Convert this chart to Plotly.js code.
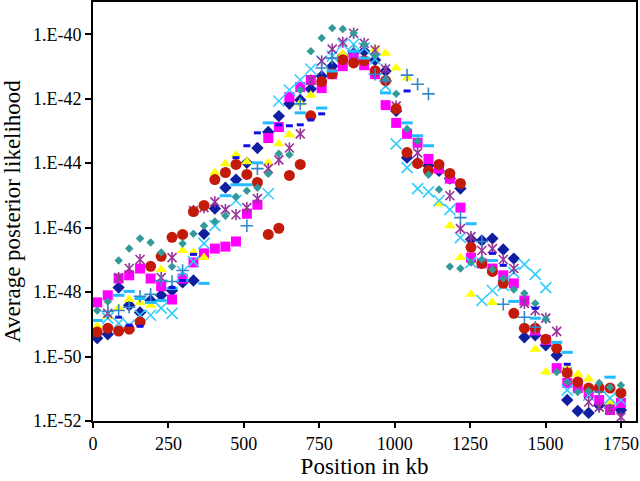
<!DOCTYPE html>
<html>
<head>
<meta charset="utf-8">
<script src="https://cdn.plot.ly/plotly-3.0.1.min.js"></script>
<style>html,body{margin:0;padding:0;background:#fff;}#chart{width:640px;height:481px;}</style>
</head>
<body>
<div id="chart"></div>
<script>
// Positions (kb) of the sampled windows
const positionKb = [14, 49, 85, 120, 156, 191, 226, 262, 297, 333, 368, 404, 439, 474, 510, 545, 581, 616, 651, 687,
  722, 758, 793, 828, 864, 899, 935, 970, 1005, 1041, 1076, 1112, 1147, 1183, 1218, 1253, 1289, 1324, 1360, 1395,
  1430, 1466, 1501, 1537, 1572, 1607, 1643, 1678, 1714, 1750];

// Average posterior likelihood, given as log10 exponents (null = not visible)
const navyDiamondLog = [-49.43, -49.31, -47.86, -48.41, -48.63, -48.26, -48.10, -47.95, -47.70, -47.64,
  -46.19, -45.41, -44.76, -44.51, -43.99, -43.53, -43.03, -42.54, -42.16, -42.04,
  -41.70, -41.30, -40.99, -40.68, -40.59, -40.53, -40.80, -41.14, -42.38, -43.83,
  -43.99, -44.08, -44.24, -44.48, -44.79, -46.37, -46.40, -46.34, -46.68, -46.96,
  -49.40, -49.34, -49.65, -49.96, -51.35, -51.69, -51.75, -51.51, -51.60, -51.66];
const magentaSquareLog = [-48.32, -48.10, -47.58, -47.48, -47.27, -47.58, -47.82, -48.23, -47.58, -47.08,
  -46.80, -46.65, -46.59, -46.43, -45.57, -45.29, -43.22, -42.88, -41.95, -41.64,
  -41.42, -41.67, -41.24, -40.99, -40.74, -40.96, -41.24, -42.20, -42.75, -43.09,
  -43.37, -43.87, -44.17, -44.48, -45.38, -46.93, -47.11, -47.27, -47.48, -47.73,
  -48.26, -49.19, -49.49, -50.36, -50.82, -50.98, -51.13, -51.35, -51.66, -51.44];
const yellowTriangleLog = [-49.06, -48.75, -48.50, -48.23, -48.32, -48.41, -47.30, null, -46.71, -46.77,
  -46.93, -44.30, -44.02, -43.74, -43.96, null, -43.99, -43.40, -43.12, -42.13,
  -41.89, null, null, -40.62, null, null, -40.46, -40.59, -41.05, -41.36,
  null, null, -45.26, -45.94, -46.93, -48.07, null, -48.32, null, null,
  null, -49.77, -50.48, null, -50.36, -50.55, -50.70, null, -51.41, null];
const cyanCrossLog = [null, -48.81, -48.97, -49.03, -48.72, -48.72, -48.50, -48.66, -47.36, -47.05,
  -46.49, -45.94, null, -45.16, null, null, -44.95, -42.07, -41.73, -41.42,
  -41.08, -40.83, -40.68, -40.31, -40.31, -40.43, -40.77, -41.61, -43.40, -44.14,
  -44.79, -44.89, -45.16, -45.44, -46.31, -47.08, -48.26, -47.95, -47.79, -47.39,
  -47.14, -47.45, -47.86, null, -51.04, null, -51.20, null, -51.29, -51.35];
const purpleStarLog = [null, -48.66, -47.55, -47.27, -46.99, null, -47.55, -46.93, null, -45.47,
  -45.38, -45.20, -45.44, -45.60, -45.38, -45.10, -44.17, -43.90, -43.53, -43.09,
  -41.42, -40.83, -40.46, -40.25, -39.97, -40.28, -40.49, -41.08, -42.23, null,
  -43.68, null, null, -45.01, -46.03, -46.28, -46.71, -46.65, -46.99, -47.27,
  -48.35, -48.57, -48.81, -49.22, -50.48, null, -51.41, -51.57, -51.63, -51.88];
const redCircleLog = [-49.24, -49.12, -49.21, -49.15, -48.93, -47.20, -46.89, -46.30, -46.21, -45.50,
  -45.31, -44.51, -44.29, -44.04, -44.35, -44.60, -46.21, -46.02, -44.38, -44.04,
  -42.53, -41.47, -41.23, -40.79, -40.89, -40.82, -41.13, -41.44, -42.31, -43.67,
  -44.01, -44.23, -44.04, -44.32, -44.63, -46.61, -47.11, -47.36, -47.73, -48.66,
  -49.12, -49.12, -49.46, -49.74, -50.51, -50.79, -50.98, -50.98, -50.98, -51.13];
const tealDotLog = [-48.57, -48.29, -47.02, -46.65, -46.34, -46.46, -46.77, -47.21, -46.49, -46.19,
  -45.94, -45.81, -45.63, -45.04, -44.86, -44.76, -44.33, -43.71, -43.74, -41.73,
  -40.53, -40.12, -39.81, -39.84, -39.97, -40.31, -40.65, -41.39, -41.85, -42.94,
  -43.31, -44.36, -44.82, -47.21, -47.27, -47.08, -46.99, -47.30, -47.58, -47.92,
  -48.04, -48.35, -48.84, -50.48, -50.79, -51.10, -51.07, -50.82, -50.95, -50.89];
const bluePlusLog = [null, -48.60, -48.57, -48.47, -48.13, -48.07, -47.64, -47.67, -47.33, null,
  null, null, null, null, -45.94, -44.17, null, null, null, -42.16,
  null, -41.05, -40.74, null, -40.53, null, -41.24, -41.45, null, -41.27,
  -41.55, -41.85, null, null, -45.69, null, -46.43, null, -48.38, null,
  -48.78, -49.09, null, null, null, null, null, -51.10, null, null];
const cyanDashLog = [-48.88, null, -48.10, -47.98, -48.20, -48.32, -48.26, -47.89, -47.64, null,
  -47.73, null, -45.01, -44.67, -44.67, -43.99, -42.75, null, null, -42.44,
  null, -42.29, -41.14, null, -40.53, -40.74, null, -41.82, null, -42.75,
  -43.15, -43.46, null, null, null, -45.88, null, -47.02, null, -48.29,
  null, -48.81, null, -49.56, -49.87, null, null, null, -50.64, null];
const blueDashLog = [null, null, -48.78, -49.03, -49.06, null, null, -47.86, -47.64, -46.83,
  null, null, null, -43.83, -43.46, -43.06, null, -42.81, -42.84, -42.81,
  -42.66, -42.47, null, null, null, null, null, null, null, -41.76,
  null, null, null, null, null, null, null, -46.80, -47.17, null,
  null, -48.50, null, null, -50.24, null, null, null, null, null];

const yTickExponents = [-52, -50, -48, -46, -44, -42, -40];
const yTickLabels = ["1.E-52", "1.E-50", "1.E-48", "1.E-46", "1.E-44", "1.E-42", "1.E-40"];
const xTicks = [0, 250, 500, 750, 1000, 1250, 1500, 1750];

function toValues(arr) { return arr.map(v => v === null ? null : Math.pow(10, v)); }

function series(name, logs, marker) {
  return { type: 'scatter', mode: 'markers', name: name, x: positionKb, y: toValues(logs),
           marker: marker, showlegend: false };
}

const STAR = '#993399';
const traces = [
  series('Series 1', navyDiamondLog, {symbol: 'diamond', size: 9.5, color: '#0F1FA0', line: {width: 0}}),
  series('Series 2', magentaSquareLog, {symbol: 'square', size: 10, color: '#FF00FF', line: {width: 0}}),
  series('Series 3', yellowTriangleLog, {symbol: 'triangle-up', size: 10, color: '#FFFF00', line: {width: 0}}),
  series('Series 4', cyanCrossLog, {symbol: 'x-thin-open', size: 11, color: '#33CCFF', line: {width: 1.6, color: '#33CCFF'}}),
  // Excel-style star: an x with a vertical bar (drawn as two layers of the same points)
  series('Series 5', purpleStarLog, {symbol: 'x-thin-open', size: 9, color: STAR, line: {width: 1.6, color: STAR}}),
  series('Series 5', purpleStarLog, {symbol: 'line-ns-open', size: 8, color: STAR, line: {width: 1.6, color: STAR}}),
  series('Series 6', redCircleLog, {symbol: 'circle', size: 11, color: '#C41A0A', line: {width: 0}}),
  series('Series 7', tealDotLog, {symbol: 'diamond', size: 6.5, color: '#339999', line: {width: 0}}),
  series('Series 8', bluePlusLog, {symbol: 'cross-thin-open', size: 9, color: '#3388CC', line: {width: 1.6, color: '#3388CC'}}),
  series('Series 9', cyanDashLog, {symbol: 'line-ew-open', size: 8, color: '#22BBFF', line: {width: 3, color: '#22BBFF'}}),
  series('Series 10', blueDashLog, {symbol: 'line-ew-open', size: 5, color: '#1010E6', line: {width: 3, color: '#1010E6'}})
];

const fam = 'Times New Roman';

const layout = {
  width: 640, height: 481,
  margin: {l: 93, r: 4, t: 2, b: 60, pad: 0},
  showlegend: false,
  font: {family: fam, size: 18, color: '#000'},
  xaxis: {
    range: [0, 1800], tickvals: xTicks, ticktext: xTicks.map(String),
    showgrid: false, zeroline: false, showline: true, linecolor: '#000', linewidth: 2, mirror: true,
    ticks: 'outside', ticklen: 5, tickwidth: 1.5, tickcolor: '#000',
    tickfont: {family: fam, size: 18, color: '#000'},
    title: {text: 'Position in kb', font: {family: fam, size: 23, color: '#000'}, standoff: 3}
  },
  yaxis: {
    type: 'log', range: [-52, -39],
    tickvals: yTickExponents.map(e => Math.pow(10, e)), ticktext: yTickLabels,
    showgrid: false, zeroline: false, showline: true, linecolor: '#000', linewidth: 2, mirror: true,
    ticks: 'outside', ticklen: 6, tickwidth: 1.5, tickcolor: '#000',
    tickfont: {family: fam, size: 18, color: '#000'},
    title: {text: 'Average posterior likelihood', font: {family: fam, size: 23, color: '#000'}, standoff: 6}
  }
};

Plotly.newPlot('chart', traces, layout, {displayModeBar: false});
</script>
</body>
</html>
